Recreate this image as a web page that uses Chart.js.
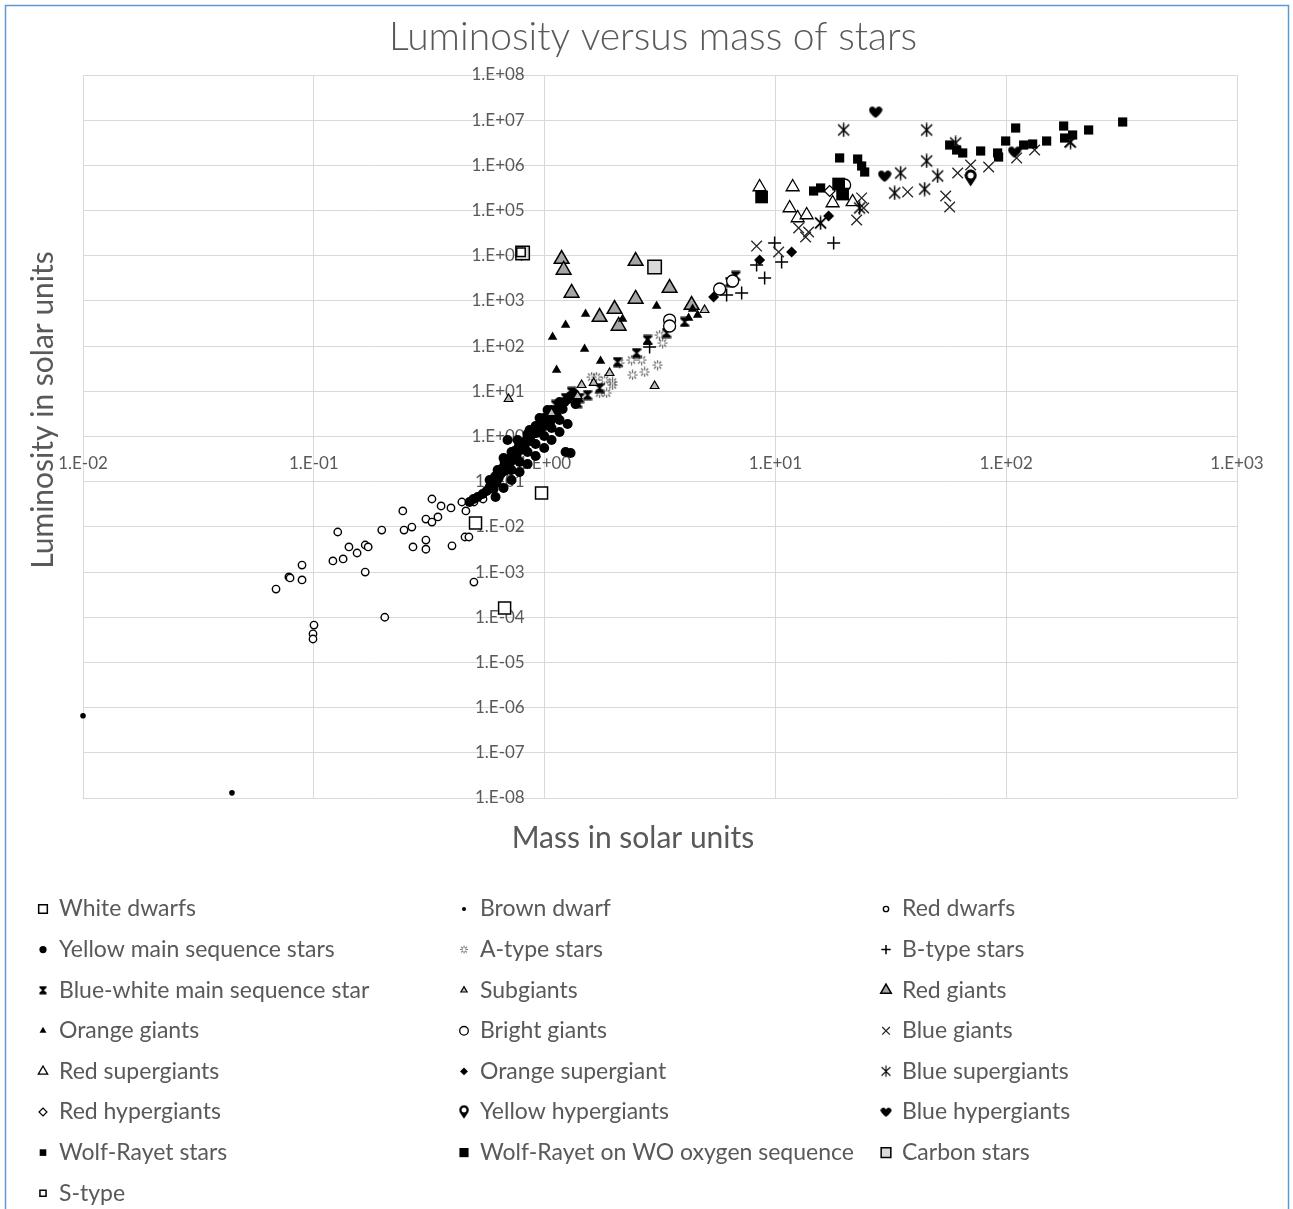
<!DOCTYPE html>
<html>
<head>
<meta charset="utf-8">
<title>Luminosity versus mass of stars</title>
<script src="https://cdn.jsdelivr.net/npm/chart.js@4.4.1/dist/chart.umd.min.js"></script>
<style>
    html, body { margin: 0; padding: 0; background: #ffffff; }
    #wrap { position: relative; width: 1293px; height: 1209px; }
</style>
</head>
<body>
<div id="wrap"><canvas id="chartStars"></canvas></div>
<script>
// ---- data (mass, luminosity) in solar units ----
const chartTitle = 'Luminosity versus mass of stars';
const xTitle = 'Mass in solar units';
const yTitle = 'Luminosity in solar units';

const xTicks = [0.01, 0.1, 1, 10, 100, 1000];
const xTickLabels = ['1.E-02', '1.E-01', '1.E+00', '1.E+01', '1.E+02', '1.E+03'];
const yTicks = [1e-8, 1e-7, 1e-6, 1e-5, 1e-4, 1e-3, 1e-2, 1e-1, 1, 1e1, 1e2, 1e3, 1e4, 1e5, 1e6, 1e7, 1e8];
const yTickLabels = ['1.E-08', '1.E-07', '1.E-06', '1.E-05', '1.E-04', '1.E-03', '1.E-02', '1.E-01',
    '1.E+00', '1.E+01', '1.E+02', '1.E+03', '1.E+04', '1.E+05', '1.E+06', '1.E+07', '1.E+08'];

const seriesNames = [
    'White dwarfs', 'Brown dwarf', 'Red dwarfs',
    'Yellow main sequence stars', 'A-type stars', 'B-type stars',
    'Blue-white main sequence star', 'Subgiants', 'Red giants',
    'Orange giants', 'Bright giants', 'Blue giants',
    'Red supergiants', 'Orange supergiant', 'Blue supergiants',
    'Red hypergiants', 'Yellow hypergiants', 'Blue hypergiants',
    'Wolf-Rayet stars', 'Wolf-Rayet on WO oxygen sequence', 'Carbon stars',
    'S-type'
];

const whiteDwarfs = [[0.970, 0.0562], [0.502, 0.0122], [0.671, 1.6e-4]];
const brownDwarf = [[0.01, 6.6e-7], [0.0442, 1.3e-8]];
const redDwarfs = [[0.0686, 4.2e-4], [0.078, 7.8e-4], [0.0789, 7.4e-4], [0.0889, 1.43e-3], [0.0889, 6.7e-4],
    [0.1002, 6.7e-5], [0.0992, 4.3e-5], [0.0992, 3.3e-5], [0.121, 1.76e-3], [0.127, 7.7e-3], [0.134, 1.95e-3],
    [0.142, 3.6e-3], [0.154, 2.64e-3], [0.167, 3.97e-3], [0.172, 3.6e-3], [0.167, 1.0e-3], [0.197, 8.5e-3],
    [0.203, 1.0e-4], [0.243, 0.0225], [0.246, 8.5e-3], [0.266, 9.9e-3], [0.269, 3.6e-3], [0.306, 5.1e-3],
    [0.306, 3.2e-3], [0.306, 0.0149], [0.325, 0.0128], [0.325, 0.0414], [0.345, 0.0166], [0.356, 0.029],
    [0.393, 0.0262], [0.397, 3.8e-3], [0.438, 0.0355], [0.456, 0.0225], [0.452, 5.97e-3], [0.47, 5.97e-3],
    [0.494, 0.0355], [0.541, 0.0414], [0.494, 6.0e-4]];
const yellowMainSequence = [[0.513, 0.0458], [0.539, 0.0534], [0.561, 0.0622], [0.578, 0.0763], [0.601, 0.0689],
    [0.619, 0.0935], [0.632, 0.121], [0.645, 0.148], [0.658, 0.201], [0.671, 0.172], [0.684, 0.246], [0.698, 0.318],
    [0.712, 0.273], [0.727, 0.39], [0.741, 0.478], [0.756, 0.37], [0.772, 0.586], [0.787, 0.503], [0.803, 0.718],
    [0.819, 0.616], [0.836, 0.837], [0.852, 0.975], [0.87, 0.795], [0.887, 1.136], [0.905, 1.393], [0.923, 1.195],
    [0.942, 1.707], [0.961, 1.466], [0.98, 1.99], [1.0, 1.707], [1.02, 2.32], [1.04, 2.70], [1.062, 2.20],
    [1.083, 3.15], [1.105, 3.67], [1.127, 2.99], [1.15, 4.27], [1.173, 4.98], [1.197, 4.06], [1.221, 5.80],
    [1.258, 6.76], [1.296, 7.87], [1.349, 8.72], [0.691, 0.837], [1.233, 0.454], [1.296, 0.431], [0.719, 0.1815],
    [0.779, 0.273], [0.844, 0.454], [0.914, 0.682], [0.996, 1.025], [1.072, 1.542], [1.161, 2.32], [0.613, 0.1336],
    [0.664, 0.334], [0.764, 0.837], [0.861, 1.393], [0.951, 2.57], [1.03, 3.86],
    [0.578, 0.109], [0.626, 0.1815], [0.671, 0.273], [0.719, 0.454], [0.779, 0.682], [0.844, 1.136],
    [0.914, 1.707], [0.996, 2.57], [1.072, 3.86], [1.161, 5.80], [0.613, 0.0458], [0.664, 0.0725],
    [0.719, 0.109], [0.779, 0.164], [0.844, 0.246], [0.914, 0.37], [0.996, 0.556], [1.072, 0.837],
    [1.161, 1.258], [1.258, 1.891], [1.362, 5.24], [0.473, 0.0355], [0.492, 0.0414]];
const aTypeStars = [[1.68, 20.7], [1.731, 9.18], [1.857, 9.18], [1.97, 16.1], [2.406, 23.0], [2.713, 26.8],
    [3.088, 38.2], [3.15, 176], [3.245, 117], [2.382, 49.3], [2.113, 42.3], [1.82, 17.8], [1.598, 20.7],
    [1.97, 13.8], [2.633, 49.3]];
const bTypeStars = [[2.851, 95.6], [6.147, 1353], [7.141, 1500], [8.291, 6240], [8.982, 3219], [9.923, 1.91e4],
    [10.64, 7270], [17.88, 1.91e4]];
const blueWhiteMainSequence = [[1.418, 7.11], [1.536, 8.28], [2.072, 44.5], [2.504, 70.4], [2.795, 137],
    [3.378, 195], [4.044, 342], [6.335, 2624], [6.725, 3565], [1.39, 5.51], [1.731, 11.8], [1.116, 4.98],
    [1.233, 7.11], [1.309, 9.66]];
const subgiants = [[0.698, 6.76], [1.072, 3.31], [1.39, 7.87], [1.447, 13.8], [1.631, 15.3], [1.913, 25.4],
    [2.997, 13.1], [4.935, 630]];
const redGiants = [[1.185, 8470], [1.209, 4840], [1.309, 1500], [2.48, 7650], [2.48, 1104], [2.01, 663],
    [1.731, 441], [2.093, 279], [3.48, 1933], [4.335, 813]];
const orangeGiants = [[1.505, 514], [1.233, 293], [1.083, 159], [1.49, 86.4], [1.127, 29.6], [3.057, 773],
    [2.178, 398], [1.748, 46.9], [2.795, 123], [4.207, 419], [4.603, 488], [4.378, 663]];
const brightGiants = [[3.48, 378], [3.48, 279], [5.733, 1837], [6.527, 2762], [19.95, 3.68e5]];
const blueGiants = [[8.291, 1.64e4], [10.33, 1.21e4], [12.61, 4.11e4], [13.52, 2.6e4], [13.93, 3.35e4],
    [15.7, 5.31e4], [22.49, 6.18e4], [23.64, 1.9e5], [24.12, 1.14e5], [37.41, 2.58e5], [54.68, 2.1e5],
    [56.9, 1.2e5], [61.63, 6.78e5], [70.15, 1.02e6], [83.95, 9.2e5], [132.8, 2.19e6], [188.4, 3.29e6],
    [111, 1.46e6]];
const redSupergiants = [[8.543, 3.32e5], [11.88, 3.32e5], [11.53, 1.14e5], [12.49, 6.84e4], [13.66, 7.98e4],
    [17.7, 1.47e5], [21.61, 1.55e5]];
const orangeSupergiant = [[5.4, 1222], [8.543, 8050], [11.76, 1.21e4], [17.01, 7.58e4]];
const blueSupergiants = [[19.76, 6.07e6], [45.21, 6.07e6], [45.21, 1.25e6], [44.33, 3.0e5], [50.47, 5.82e5],
    [32.86, 2.45e5], [34.89, 6.78e5], [60.4, 3.13e6], [190.1, 3.29e6], [23.17, 1.14e5], [15.7, 5.31e4]];
const redHypergiants = [[17.18, 2.71e5]];
const yellowHypergiants = [[70.15, 5.26e5]];
const blueHypergiants = [[27.18, 1.52e7], [29.74, 5.82e5], [108.8, 1.98e6]];
const wolfRayet = [[18.98, 1.46e6], [22.72, 1.38e6], [23.64, 9.69e5], [24.37, 7.13e5], [109.9, 6.71e6],
    [99.47, 3.46e6], [119.0, 2.82e6], [130.2, 2.97e6], [149.7, 3.46e6], [77.5, 2.08e6], [91.8, 1.88e6],
    [92.7, 1.53e6], [56.9, 2.82e6], [61.0, 2.19e6], [64.8, 1.88e6], [177.4, 7.43e6], [179.1, 4.03e6],
    [194.0, 4.7e6], [227.6, 6.07e6], [319.6, 9.12e6], [14.64, 2.71e5], [15.7, 3.16e5]];
const wolfRayetWO = [[8.714, 2.0e5], [18.79, 3.87e5], [19.55, 2.32e5]];
const carbonStars = [[0.803, 1.15e4], [2.997, 5.64e3]];
const sType = [[0.79, 1.2e4]];

const seriesData = [
    whiteDwarfs, brownDwarf, redDwarfs,
    yellowMainSequence, aTypeStars, bTypeStars,
    blueWhiteMainSequence, subgiants, redGiants,
    orangeGiants, brightGiants, blueGiants,
    redSupergiants, orangeSupergiant, blueSupergiants,
    redHypergiants, yellowHypergiants, blueHypergiants,
    wolfRayet, wolfRayetWO, carbonStars,
    sType
];

// ---- marker shapes that Chart.js has no built-in style for ----
function makeMarker(w, h, paint) {
    const c = document.createElement('canvas');
    c.width = w;
    c.height = h;
    paint(c.getContext('2d'));
    return c;
}

const hourglass = makeMarker(10, 11, function(g) {
    g.fillStyle = '#000';
    g.beginPath();
    g.moveTo(0.5, 0.5); g.lineTo(9.5, 0.5); g.lineTo(9.5, 2.5); g.lineTo(6, 5.5);
    g.lineTo(9.5, 8.5); g.lineTo(9.5, 10.5); g.lineTo(0.5, 10.5); g.lineTo(0.5, 8.5);
    g.lineTo(4, 5.5); g.lineTo(0.5, 2.5);
    g.closePath();
    g.fill();
});

const dottedStar = makeMarker(11, 11, function(g) {
    g.strokeStyle = '#595959';
    g.lineWidth = 1.2;
    g.beginPath();
    for (let k = 0; k < 8; k++) {
        const a = k * Math.PI / 4;
        g.moveTo(5.5 + Math.cos(a) * 2, 5.5 + Math.sin(a) * 2);
        g.lineTo(5.5 + Math.cos(a) * 5, 5.5 + Math.sin(a) * 5);
    }
    g.stroke();
});

const asterisk = makeMarker(15, 15, function(g) {
    g.strokeStyle = '#000';
    g.lineWidth = 1.5;
    g.beginPath();
    g.moveTo(2, 2); g.lineTo(13, 13);
    g.moveTo(13, 2); g.lineTo(2, 13);
    g.moveTo(7.5, 0.5); g.lineTo(7.5, 14.5);
    g.stroke();
});

const heart = makeMarker(14, 13, function(g) {
    g.fillStyle = '#000';
    g.beginPath();
    g.moveTo(7, 12.5);
    g.bezierCurveTo(1, 8, 0, 5, 0.5, 3.5);
    g.bezierCurveTo(1.5, 0, 6, 0, 7, 3.5);
    g.bezierCurveTo(8, 0, 12.5, 0, 13.5, 3.5);
    g.bezierCurveTo(14, 5, 13, 8, 7, 12.5);
    g.fill();
});

const pin = makeMarker(13, 18, function(g) {
    g.fillStyle = '#000';
    g.beginPath();
    g.arc(6.5, 6.5, 6, Math.PI * 0.8, Math.PI * 2.2);
    g.lineTo(6.5, 17.5);
    g.closePath();
    g.fill();
    g.fillStyle = '#fff';
    g.beginPath();
    g.arc(6.5, 6.5, 3, 0, Math.PI * 2);
    g.fill();
});

const seriesStyles = [
    { shape: 'rect', radius: 8.5, fill: '#ffffff', border: '#000000', width: 1.5 },
    { shape: 'circle', radius: 2.8, fill: '#000000', border: '#000000', width: 0 },
    { shape: 'circle', radius: 3.7, fill: '#ffffff', border: '#000000', width: 1.4 },
    { shape: 'circle', radius: 5, fill: '#000000', border: '#000000', width: 0 },
    { shape: dottedStar, radius: 5, fill: '#595959', border: '#595959', width: 1 },
    { shape: 'cross', radius: 6.5, fill: '#000000', border: '#000000', width: 1.5 },
    { shape: hourglass, radius: 5, fill: '#000000', border: '#000000', width: 0 },
    { shape: 'triangle', radius: 5, fill: '#bfbfbf', border: '#000000', width: 1.2 },
    { shape: 'triangle', radius: 8.5, fill: '#a6a6a6', border: '#000000', width: 1.5 },
    { shape: 'triangle', radius: 5.5, fill: '#000000', border: '#000000', width: 0 },
    { shape: 'circle', radius: 6, fill: '#ffffff', border: '#000000', width: 1.3 },
    { shape: 'crossRot', radius: 7.5, fill: '#262626', border: '#262626', width: 1.3 },
    { shape: 'triangle', radius: 7.5, fill: '#ffffff', border: '#000000', width: 1.3 },
    { shape: 'rectRot', radius: 5.5, fill: '#000000', border: '#000000', width: 0 },
    { shape: asterisk, radius: 7, fill: '#000000', border: '#000000', width: 1.5 },
    { shape: 'rectRot', radius: 5.5, fill: '#ffffff', border: '#000000', width: 1.2 },
    { shape: pin, radius: 7, fill: '#000000', border: '#000000', width: 0 },
    { shape: heart, radius: 7, fill: '#000000', border: '#000000', width: 0 },
    { shape: 'rect', radius: 6.5, fill: '#000000', border: '#000000', width: 0 },
    { shape: 'rect', radius: 9, fill: '#000000', border: '#000000', width: 0 },
    { shape: 'rect', radius: 9.5, fill: '#d9d9d9', border: '#000000', width: 1.5 },
    { shape: 'rect', radius: 6, fill: '#ffffff', border: '#000000', width: 1.5 }
];

const datasets = seriesNames.map(function(name, i) {
    const s = seriesStyles[i];
    return {
        label: name,
        data: seriesData[i].map(function(p) { return { x: p[0], y: p[1] }; }),
        pointStyle: s.shape,
        pointRadius: s.radius,
        pointBackgroundColor: s.fill,
        pointBorderColor: s.border,
        pointBorderWidth: s.width,
        clip: false,
        order: -i   // later series on top, like the spreadsheet
    };
});

const textColor = '#595959';
const gridColor = '#d9d9d9';

function drawLegendMarker(ctx, ds, x, y) {
    const style = ds.pointStyle;
    if (style instanceof HTMLCanvasElement) {
        const w = style.width * 0.8, h = style.height * 0.8;
        ctx.drawImage(style, x - w / 2, y - h / 2, w, h);
        return;
    }
    ctx.fillStyle = ds.pointBackgroundColor;
    ctx.strokeStyle = ds.pointBorderColor;
    ctx.lineWidth = ds.pointBorderWidth;
    Chart.helpers.drawPoint(ctx, {
        pointStyle: style, rotation: 0,
        radius: ds.pointRadius * 0.72, borderWidth: ds.pointBorderWidth
    }, x, y);
}

const frameAndText = {
    id: 'frameAndText',
    beforeDraw: function(chart) {
        const ctx = chart.ctx;
        ctx.save();
        ctx.fillStyle = '#ffffff';
        ctx.fillRect(0, 0, chart.width, chart.height);
        ctx.restore();
    },
    afterDraw: function(chart) {
        const ctx = chart.ctx;
        ctx.save();
        ctx.strokeStyle = '#5b9bd5';
        ctx.lineWidth = 1.5;
        ctx.strokeRect(5.5, 5.5, 1283, 1300);

        ctx.fillStyle = textColor;
        ctx.textAlign = 'center';
        ctx.textBaseline = 'middle';
        ctx.font = '300 39px Lato';
        ctx.fillText(chartTitle, 653, 37);
        ctx.font = '30px Lato';
        ctx.fillText(xTitle, 633, 838);
        ctx.save();
        ctx.translate(43, 410);
        ctx.rotate(-Math.PI / 2);
        ctx.fillText(yTitle, 0, 0);
        ctx.restore();

        // legend, three columns, row by row
        const cols = [43, 464, 886];
        chart.data.datasets.forEach(function(ds, i) {
            const x = cols[i % 3];
            const y = 909 + Math.floor(i / 3) * 40.6;
            drawLegendMarker(ctx, ds, x, y);
            ctx.fillStyle = textColor;
            ctx.textAlign = 'left';
            ctx.textBaseline = 'middle';
            ctx.font = '23px Lato';
            ctx.fillText(ds.label, x + 16, y);
        });
        ctx.restore();
    }
};

document.addEventListener('DOMContentLoaded', function() {
    const ctx = document.getElementById('chartStars').getContext('2d');

    new Chart(ctx, {
        type: 'scatter',
        data: { datasets: datasets },
        plugins: [frameAndText],
        options: {
            responsive: true,
            maintainAspectRatio: false,
            animation: false,
            events: [],
            layout: { padding: { left: 83, right: 56, top: 75, bottom: 411 } },
            plugins: {
                legend: { display: false },
                tooltip: { enabled: false },
                title: { display: false }
            },
            scales: {
                x: {
                    type: 'logarithmic',
                    min: 0.01,
                    max: 1000,
                    position: { y: 1 },
                    border: { display: false },
                    grid: { color: gridColor, drawTicks: false },
                    afterBuildTicks: function(scale) {
                        scale.ticks = xTicks.map(function(v) { return { value: v }; });
                    },
                    ticks: {
                        padding: 17,
                        autoSkip: false,
                        maxRotation: 0,
                        color: textColor,
                        font: { family: 'Lato', size: 17 },
                        callback: function(value, index) { return xTickLabels[index]; }
                    }
                },
                y: {
                    type: 'logarithmic',
                    min: 1e-8,
                    max: 1e8,
                    position: { x: 0.82 },  // labels sit just left of the x = 1 line
                    border: { display: false },
                    grid: { color: gridColor, drawTicks: false },
                    afterBuildTicks: function(scale) {
                        scale.ticks = yTicks.map(function(v) { return { value: v }; });
                    },
                    ticks: {
                        padding: 0,
                        autoSkip: false,
                        color: textColor,
                        font: { family: 'Lato', size: 17 },
                        callback: function(value, index) { return yTickLabels[index]; }
                    }
                }
            }
        }
    });
});
</script>
</body>
</html>
